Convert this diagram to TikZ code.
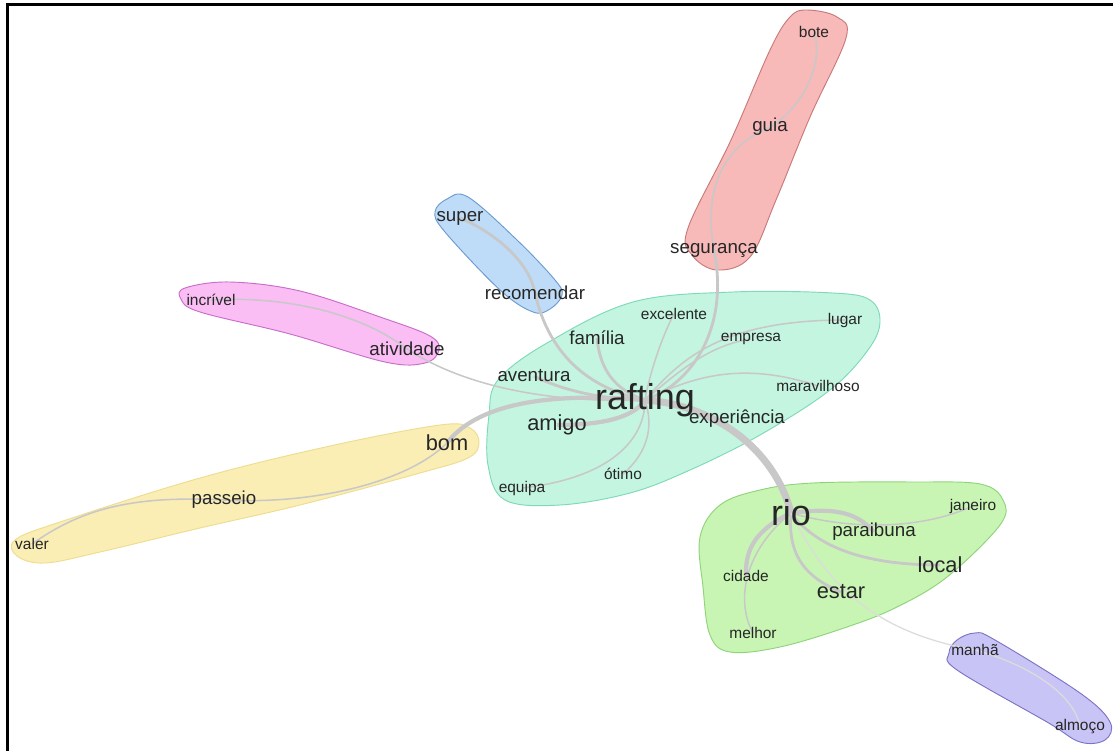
\documentclass[tikz,border=0pt]{standalone}
\usepackage{fontspec}
\setmainfont{Liberation Sans}
\pgfdeclarelayer{background}
\pgfsetlayers{background,main}
\definecolor{tealfill}{HTML}{C4F5E1}
\definecolor{tealline}{HTML}{7FD9B9}
\definecolor{greenfill}{HTML}{C8F5B4}
\definecolor{greenline}{HTML}{8FD47A}
\definecolor{yellowfill}{HTML}{FAEEB4}
\definecolor{yellowline}{HTML}{EEDC90}
\definecolor{pinkfill}{HTML}{FABEF5}
\definecolor{pinkline}{HTML}{C86EC8}
\definecolor{bluefill}{HTML}{BEDCF8}
\definecolor{blueline}{HTML}{6D9BD0}
\definecolor{redfill}{HTML}{F8B9B9}
\definecolor{redline}{HTML}{C87A7A}
\definecolor{purplefill}{HTML}{C8C4F5}
\definecolor{purpleline}{HTML}{7C74C4}
\definecolor{edgegray}{HTML}{C8C8C8}
\definecolor{edgelight}{HTML}{DCDCDC}
\begin{document}
\begin{tikzpicture}[x=0.03cm, y=-0.03cm]
  \tikzstyle{every node}=[inner sep=0pt, text=black!85]
  \tikzstyle{wsmall}=[font=\fontsize{13.2}{14}\selectfont]
  \tikzstyle{wmid}=[font=\fontsize{16}{17}\selectfont]
  \tikzstyle{wbig}=[font=\fontsize{18.6}{20}\selectfont]
  \tikzstyle{whuge}=[font=\fontsize{30.7}{32}\selectfont]
  \tikzstyle{hull}=[line width=0.8pt]
  \tikzstyle{edgethin}=[draw=edgegray, line width=1.3pt]
  \tikzstyle{edgemid}=[draw=edgegray, line width=2.4pt]
  \tikzstyle{edgethick}=[draw=edgegray, line width=3.6pt]
  \useasboundingbox (0,0) rectangle (1113,751);

  %frame
  \draw[line width=2.3pt] (7.8,751) -- (7.8,4.3) -- (1113,4.3);

  %hulls of the clusters
  \begin{pgfonlayer}{background}
  \filldraw[hull, fill=tealfill, draw=tealline] plot[smooth cycle, tension=0.6] coordinates
  {(498,380) (547,343) (633,302) (733,292) (833,293) (870,300) (880,322) (868,350)
   (830,390) (760,435) (690,470) (630,493) (560,505) (505,500) (488,465) (489,415)};
  \filldraw[hull, fill=greenfill, draw=greenline] plot[smooth cycle, tension=0.6] coordinates
  {(700,537) (720,505) (760,490) (813,483) (913,482) (980,484) (1003,500) (1000,525)
   (947,577) (897,607) (847,627) (780,647) (730,652) (710,635) (703,587)};
  \filldraw[hull, fill=yellowfill, draw=yellowline] plot[smooth cycle, tension=0.6] coordinates
  {(15,540) (60,522) (200,478) (330,446) (440,425) (470,428) (479,443) (468,458)
   (420,473) (300,505) (200,528) (100,552) (45,563) (17,556)};
  \filldraw[hull, fill=pinkfill, draw=pinkline] plot[smooth cycle, tension=0.6] coordinates
  {(185,288) (230,282) (300,291) (383,318) (430,336) (439,350) (425,363) (385,362)
   (290,334) (200,312) (181,299)};
  \filldraw[hull, fill=bluefill, draw=blueline] plot[smooth cycle, tension=0.6] coordinates
  {(435,212) (447,199) (468,197) (517,240) (555,280) (562,295) (550,309) (533,312)
   (500,290) (445,232)};
  \filldraw[hull, fill=redfill, draw=redline] plot[smooth cycle, tension=0.6] coordinates
  {(807,10) (837,17) (846,38) (810,117) (776,200) (750,257) (717,270) (692,255)
   (688,228) (731,140) (770,50) (790,17)};
  \filldraw[hull, fill=purplefill, draw=purpleline] plot[smooth cycle, tension=0.6] coordinates
  {(957,640) (975,633) (995,640) (1080,693) (1110,722) (1105,740) (1080,742)
   (1047,722) (957,670) (949,653)};
  \end{pgfonlayer}

  %words
  \node[whuge] (rafting) at (645,400) {rafting};
  \node[whuge] (rio) at (791,513) {rio};
  \node[wbig] (amigo) at (557,425) {amigo};
  \node[wmid] (experiencia) at (737,419) {experiência};
  \node[wmid] (familia) at (597,338) {família};
  \node[wmid] (aventura) at (534,376) {aventura};
  \node[wsmall] (excelente) at (674,314) {excelente};
  \node[wsmall] (lugar) at (845,320) {lugar};
  \node[wsmall] (empresa) at (751,339) {empresa};
  \node[wsmall] (maravilhoso) at (818,386) {maravilhoso};
  \node[wsmall] (otimo) at (623,474) {ótimo};
  \node[wsmall] (equipa) at (522,488) {equipa};
  \node[wbig] (bom) at (447,443) {bom};
  \node[wmid] (passeio) at (224,500) {passeio};
  \node[wsmall] (valer) at (32,544) {valer};
  \node[wmid] (atividade) at (407,349) {atividade};
  \node[wsmall] (incrivel) at (211,300) {incrível};
  \node[wmid] (super) at (460,218) {super};
  \node[wmid] (recomendar) at (535,293) {recomendar};
  \node[wmid] (seguranca) at (714,250) {segurança};
  \node[wmid] (guia) at (770,127) {guia};
  \node[wsmall] (bote) at (814,32) {bote};
  \node[wsmall] (janeiro) at (973,506) {janeiro};
  \node[wmid] (paraibuna) at (874,532) {paraibuna};
  \node[wbig] (local) at (940,565) {local};
  \node[wsmall] (cidade) at (746,576) {cidade};
  \node[wbig] (estar) at (841,592) {estar};
  \node[wsmall] (melhor) at (753,633) {melhor};
  \node[wsmall] (manha) at (975,650) {manhã};
  \node[wsmall] (almoco) at (1080,727) {almoço};

  %connections
  \begin{pgfonlayer}{background}
  \draw[edgegray, line width=6pt] (rafting.center) .. controls (715,405) and (775,450) .. (rio.center);
  \draw[edgemid] (rafting.center) .. controls (595,390) and (550,360) .. (recomendar.center);
  \draw[edgemid] (recomendar.center) .. controls (530,265) and (500,235) .. (super.center);
  \draw[edgemid] (rafting.center) .. controls (615,390) and (600,370) .. (familia.center);
  \draw[edgethin] (rafting.center) .. controls (650,370) and (665,330) .. (excelente.center);
  \draw[edgemid] (rafting.center) .. controls (690,385) and (730,330) .. (seguranca.center);
  \draw[edgethin] (seguranca.center) .. controls (705,200) and (715,150) .. (guia.center);
  \draw[edgethin] (guia.center) .. controls (800,110) and (825,65) .. (bote.center);
  \draw[edgethin] (rafting.center) .. controls (680,370) and (710,345) .. (empresa.center);
  \draw[edgethin] (rafting.center) .. controls (680,360) and (720,320) .. (lugar.center);
  \draw[edgethin] (rafting.center) .. controls (690,378) and (740,360) .. (maravilhoso.center);
  \draw[edgemid] (rafting.center) .. controls (610,400) and (565,392) .. (aventura.center);
  \draw[edgethin] (rafting.center) .. controls (560,403) and (470,390) .. (atividade.center);
  \draw[edgethin] (atividade.center) .. controls (370,320) and (300,295) .. (incrivel.center);
  \draw[edgethick] (rafting.center) .. controls (560,393) and (480,400) .. (bom.center);
  \draw[edgethin] (bom.center) .. controls (410,480) and (320,505) .. (passeio.center);
  \draw[edgethin] (passeio.center) .. controls (130,495) and (80,510) .. (valer.center);
  \draw[edgethick] (rafting.center) .. controls (635,415) and (610,425) .. (amigo.center);
  \draw[edgethin] (rafting.center) .. controls (645,440) and (610,478) .. (equipa.center);
  \draw[edgethin] (rafting.center) .. controls (655,430) and (645,455) .. (otimo.center);
  \draw[edgethick] (rio.center) .. controls (830,508) and (855,510) .. (paraibuna.center);
  \draw[edgethin] (rio.center) .. controls (850,530) and (920,530) .. (janeiro.center);
  \draw[edgemid] (rio.center) .. controls (815,545) and (860,565) .. (local.center);
  \draw[edgemid] (rio.center) .. controls (788,550) and (800,575) .. (estar.center);
  \draw[edgethick] (rio.center) .. controls (755,530) and (745,550) .. (cidade.center);
  \draw[edgethin] (rio.center) .. controls (745,550) and (735,600) .. (melhor.center);
  \draw[edgelight, line width=1.1pt] (rio.center) .. controls (820,570) and (860,630) .. (manha.center);
  \draw[edgelight, line width=1.1pt] (manha.center) .. controls (1030,665) and (1075,695) .. (almoco.center);
  \end{pgfonlayer}
\end{tikzpicture}
\end{document}
